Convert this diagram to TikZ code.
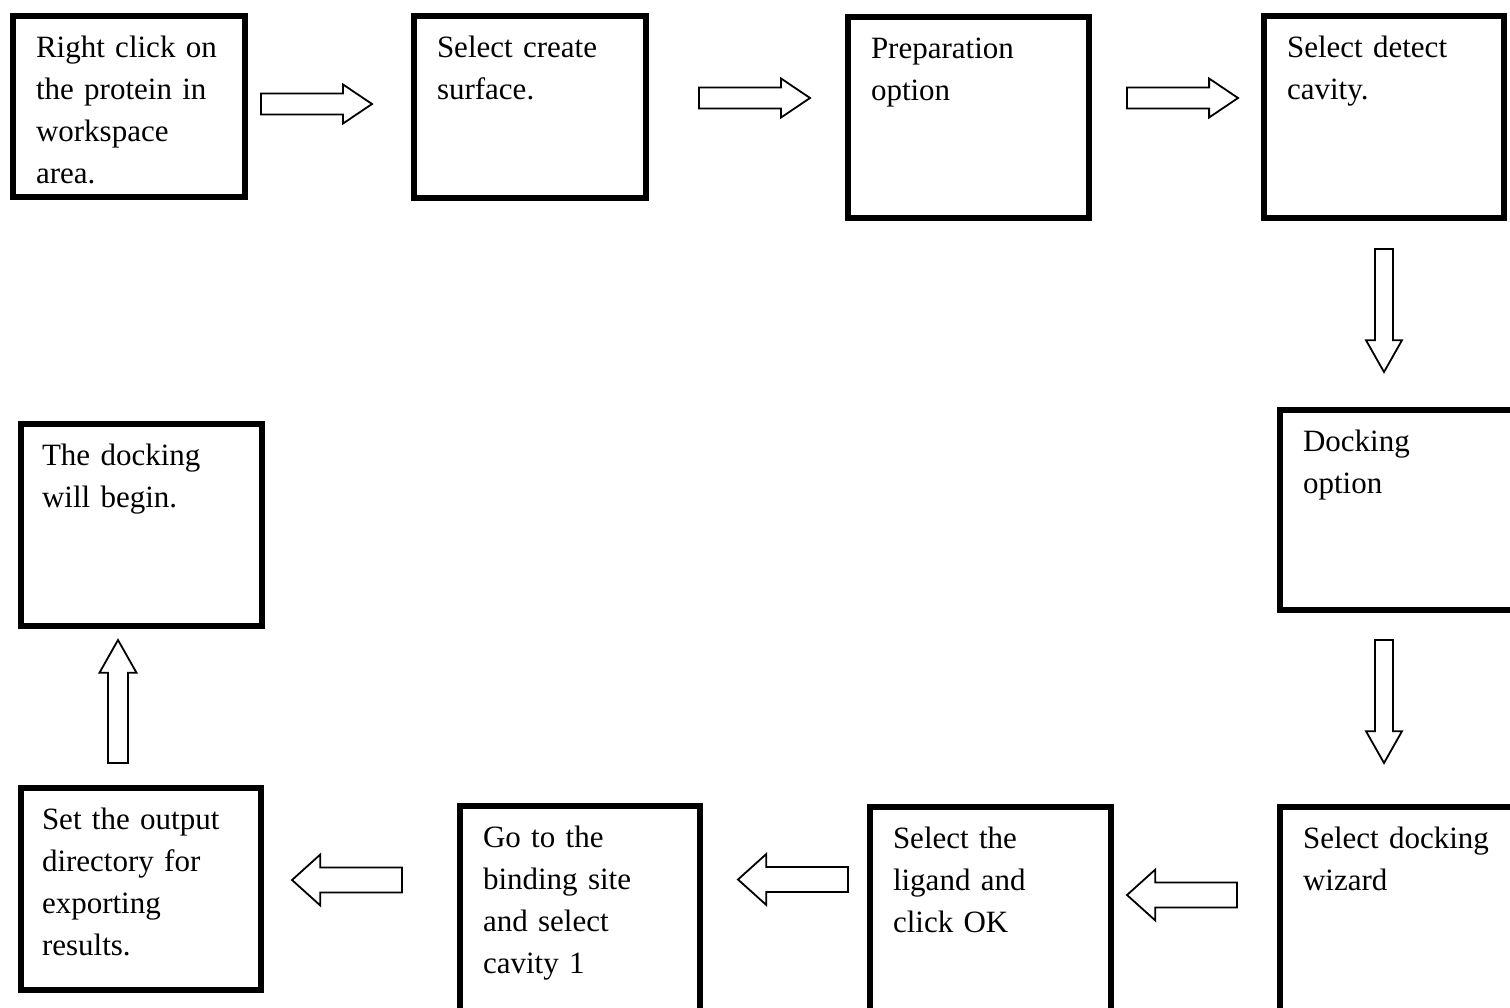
\documentclass[tikz,border=0pt]{standalone}
\usepackage{fontspec}
\setmainfont{Liberation Serif}
\usetikzlibrary{shapes.arrows}

\begin{document}
\begin{tikzpicture}[
			x=0.5pt, y=-0.5pt,
			font=\fontsize{15.5}{21}\selectfont,
			Box/.style 2 args={draw, line width=3.3pt, outer sep=0pt, anchor=north west,
				align=left, inner xsep=11.5pt, inner ysep=0pt,
				text width=#1, text height=20.5pt, text depth=#2},
			Arr/.style={draw, line width=0.9pt, single arrow, inner xsep=0pt,
				outer sep=0pt, single arrow head indent=0pt, anchor=tail},
			R/.style={Arr, minimum height=55.5pt, inner ysep=4.8pt, minimum width=18.6pt,
				single arrow head extend=4.5pt, single arrow tip angle=68},
			D/.style={Arr, rotate=-90, minimum height=61.5pt, inner ysep=4.05pt, minimum width=17.1pt,
				single arrow head extend=4.5pt, single arrow tip angle=59},
			L/.style={Arr, rotate=180, minimum height=55pt, inner ysep=5.8pt, minimum width=24.6pt,
				single arrow head extend=6.5pt, single arrow tip angle=84},
			U/.style={Arr, rotate=90, minimum height=61.5pt, inner ysep=4.55pt, minimum width=17.6pt,
				single arrow head extend=4.25pt, single arrow tip angle=59},
			]
			\useasboundingbox (0,0) rectangle (1510,1007);
			\clip (0,0) rectangle (1510,1007);
			
			% top row
			\node [Box={93pt}{70pt}] (1) at (13,16) {Right click on\\the protein in\\workspace\\area.};
			\node [Box={93pt}{70.5pt}] (2) at (414,16) {Select create\\surface.};
			\node [Box={97.5pt}{80pt}] (3) at (848,17) {Preparation\\option};
			\node [Box={97pt}{80.5pt}] (4) at (1264,16) {Select detect\\cavity.};
			
			\node [R] (a) at (261,104) {};
			\node [R] (b) at (699,98) {};
			\node [R] (c) at (1127,98) {};
			
			% right column
			\node [D] (d) at (1384,249) {};
			\node [Box={97pt}{79.5pt}] (5) at (1280,410) {Docking\\option};
			\node [D] (e) at (1384,640) {};
			
			% bottom row
			\node [Box={97pt}{82pt}] (6) at (1280,807) {Select docking\\wizard};
			\node [Box={97.5pt}{82pt}] (7) at (870,807) {Select the\\ligand and\\click OK};
			\node [Box={97pt}{82pt}] (8) at (460,806) {Go to the\\binding site\\and select\\cavity 1};
			\node [Box={99pt}{80.5pt}, inner xsep=10.5pt] (9) at (21,788) {Set the output\\directory for\\exporting\\results.};
			
			\node [L] (f) at (1237,895) {};
			\node [L] (g) at (848,879.5) {};
			\node [L] (h) at (402,880) {};
			
			% left column
			\node [U] (i) at (118,763) {};
			\node [Box={99.5pt}{80.5pt}, inner xsep=10.5pt] (10) at (21,424) {The docking\\will begin.};
		\end{tikzpicture}
\end{document}
